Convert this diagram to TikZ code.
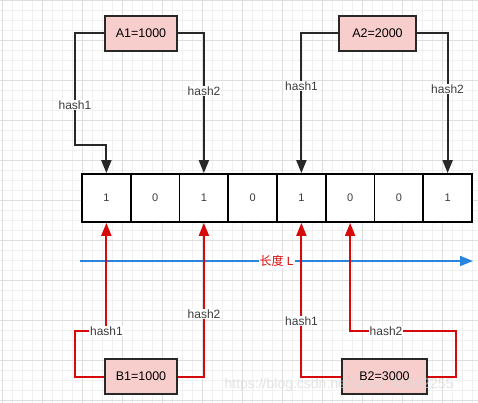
\documentclass[tikz,border=0pt]{standalone}
\usepackage{fontspec}
\setmainfont{Liberation Sans}
\newfontfamily\cjk{Noto Sans CJK SC}
\usepackage{xcolor}
\usepackage{tikz}
\usetikzlibrary{arrows.meta, positioning, calc}
\definecolor{keyfill}{RGB}{248, 206, 204}
\definecolor{keyline}{RGB}{40, 40, 40}
\definecolor{checkred}{RGB}{214, 10, 10}
\definecolor{lengthblue}{RGB}{40, 132, 222}
\definecolor{gridminor}{RGB}{240, 240, 240}
\definecolor{gridmajor}{RGB}{222, 222, 222}
\definecolor{labeltext}{RGB}{60, 60, 60}

\begin{document}
\begin{tikzpicture}[x=1pt, y=-1pt,
    keybox/.style={draw=keyline, line width=1.8pt, fill=keyfill, minimum height=35pt, inner sep=0pt, font=\fontsize{12.5}{14}\selectfont},
    bitcell/.style={draw=black, line width=1.8pt, fill=white, minimum width=48.75pt, minimum height=48pt, inner sep=0pt, text=labeltext, font=\fontsize{11}{13}\selectfont},
    insertline/.style={draw=keyline, line width=2pt, -{Triangle[length=13pt, width=10pt]}},
    queryline/.style={draw=checkred, line width=2pt, -{Triangle[length=13pt, width=10pt]}},
    hashlabel/.style={fill=white, inner sep=1pt, text=labeltext, font=\fontsize{12}{14}\selectfont}
]
    \useasboundingbox (0, 0) rectangle (478, 403);
    \fill[white] (0, 0) rectangle (478, 403);

    % Background grid
    \foreach \gx in {2, 12, ..., 472} \draw[gridminor, line width=0.5pt] (\gx, 0) -- (\gx, 403);
    \foreach \gy in {0, 10, ..., 400} \draw[gridminor, line width=0.5pt] (0, \gy) -- (478, \gy);
    \foreach \gx in {2, 42, ..., 472} \draw[gridmajor, line width=0.5pt] (\gx, 0) -- (\gx, 403);
    \foreach \gy in {0, 40, ..., 400} \draw[gridmajor, line width=0.5pt] (0, \gy) -- (478, \gy);

    % Bit array
    \foreach \b [count=\i] in {1, 0, 1, 0, 1, 0, 0, 1}
        \node[bitcell] (c\i) at ({82 + 48.75*(\i - 0.5)}, 198) {\b};

    % Inserted keys
    \node[keybox, minimum width=72pt] (A1) at (141, 33.5) {A1=1000};
    \node[keybox, minimum width=77pt] (A2) at (377.5, 33.5) {A2=2000};

    \coordinate (a1bend) at (75, 145);
    \draw[insertline] (A1.west) -| (a1bend) -| (c1.north);
    \draw[insertline] (A1.east) -| (c3.north);
    \draw[insertline] (A2.west) -| (c5.north);
    \draw[insertline] (A2.east) -| (c8.north);

    \node[hashlabel] (a1h1) at (75, 105) {hash1};
    \node[hashlabel] (a1h2) at (204, 91) {hash2};
    \node[hashlabel] (a2h1) at (301.5, 86) {hash1};
    \node[hashlabel] (a2h2) at (447.5, 89) {hash2};

    % Length axis
    \coordinate (axisstart) at (80, 261);
    \coordinate (axisend) at (473, 261);
    \draw[lengthblue, line width=1.8pt, -{Triangle[length=13pt, width=10pt]}] (axisstart) -- node[fill=white, inner sep=1pt, text=checkred, font=\fontsize{12}{14}\selectfont] (lenlabel) {{\cjk 长度} L} (axisend);

    % Queried keys
    \node[keybox, minimum width=72pt] (B1) at (141, 376.5) {B1=1000};
    \node[keybox, minimum width=85pt] (B2) at (384.5, 376.5) {B2=3000};

    \coordinate (b1bend) at (75, 331);
    \coordinate (b2bend) at (456, 331);
    \draw[queryline] (B1.west) -| (b1bend) -| (c1.south);
    \draw[queryline] (B1.east) -| (c3.south);
    \draw[queryline] (B2.west) -| (c5.south);
    \draw[queryline] (B2.east) -| (b2bend) -| (c6.south);

    \node[hashlabel] (b1h1) at (106.5, 331) {hash1};
    \node[hashlabel] (b1h2) at (204, 314) {hash2};
    \node[hashlabel] (b2h1) at (301.5, 321) {hash1};
    \node[hashlabel] (b2h2) at (386, 331) {hash2};

    % Watermark
    \node[text=gray!30, font=\fontsize{14}{16}\selectfont, opacity=0.7] (mark) at (339, 385) {https://blog.csdn.net/sinat\_41892255};
\end{tikzpicture}
\end{document}
